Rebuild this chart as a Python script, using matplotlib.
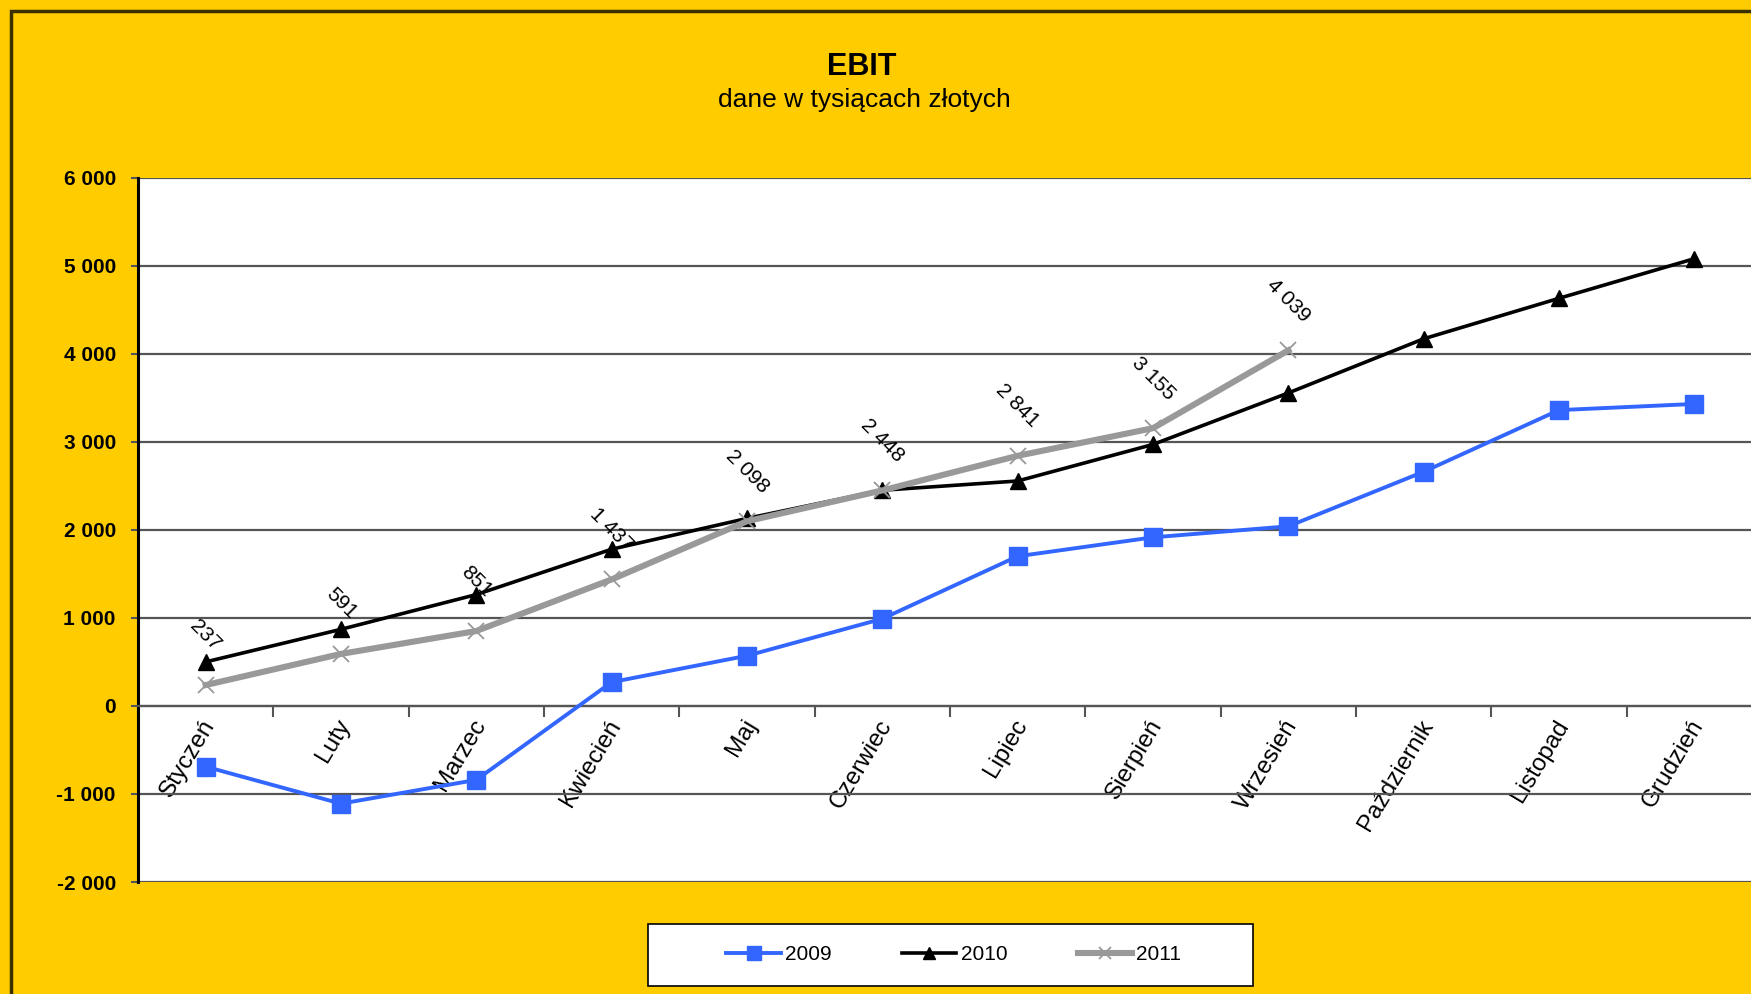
import matplotlib
matplotlib.use("Agg")
import matplotlib.pyplot as plt
from matplotlib.patches import Rectangle
from matplotlib.ticker import FuncFormatter, FixedLocator
import matplotlib.transforms as mtransforms

plt.rcParams['font.family'] = ['Liberation Sans', 'DejaVu Sans']

months = ["Styczeń", "Luty", "Marzec", "Kwiecień", "Maj", "Czerwiec",
          "Lipiec", "Sierpień", "Wrzesień", "Październik", "Listopad", "Grudzień"]
ebit_2009 = [-690, -1110, -840, 270, 570, 990, 1700, 1915, 2040, 2660, 3360, 3430]
ebit_2010 = [500, 870, 1265, 1780, 2130, 2450, 2555, 2970, 3555, 4170, 4630, 5080]
ebit_2011 = [237, 591, 851, 1437, 2098, 2448, 2841, 3155, 4039]
y_ticks = [-2000, -1000, 0, 1000, 2000, 3000, 4000, 5000, 6000]
series_names = ["2009", "2010", "2011"]

W, H = 1751, 994
fig = plt.figure(figsize=(W / 100, H / 100), dpi=100, facecolor='#FFCC00')

# outer frame (top and left visible)
fig.patches.append(Rectangle((11 / W, -0.2), 1.3, 1.2 - 11 / H,
                             transform=fig.transFigure, fill=False,
                             edgecolor='#3a3000', lw=2.5, zorder=0))

ax = fig.add_axes([138 / W, 1 - 882 / H, (1762 - 138) / W, (882 - 177.7) / H])
ax.set_facecolor('white')

x = list(range(len(months)))
x11 = x[:len(ebit_2011)]

ax.plot(x, ebit_2009, color='#3366FF', lw=2.8, marker='s', markersize=12.5,
        markeredgecolor='#3366FF', label=series_names[0], zorder=3)
ax.plot(x, ebit_2010, color='black', lw=2.6, marker='^', markersize=12,
        label=series_names[1], zorder=4)
ax.plot(x11, ebit_2011, color='#999999', lw=4.4, marker='x', markersize=11,
        markeredgewidth=1.3, label=series_names[2], zorder=5)


def fmt(v):
    s = f"{abs(int(v)):,}".replace(",", " ")
    return ("-" if v < 0 else "") + s


for xi, v in zip(x11, ebit_2011):
    ax.annotate(fmt(v), (xi, v), xytext=(0, 50), textcoords='offset pixels',
                rotation=-45, ha='center', va='center', fontsize=15,
                color='black', zorder=6, rotation_mode='anchor')

ax.set_xlim(-0.5, len(months) - 0.5)
ax.set_ylim(y_ticks[0], y_ticks[-1])

ax.spines['bottom'].set_position(('data', 0))
ax.spines['bottom'].set_color('#555555')
ax.spines['bottom'].set_linewidth(1.6)
ax.spines['top'].set_visible(False)
ax.spines['right'].set_visible(False)
ax.spines['left'].set_color('black')
ax.spines['left'].set_linewidth(2.2)

ax.set_yticks(y_ticks)
ax.yaxis.set_major_formatter(FuncFormatter(lambda v, p: fmt(v)))
ax.tick_params(axis='y', direction='out', length=5, width=1.5, color='#555555',
               labelsize=15, pad=11)
for lab in ax.get_yticklabels():
    lab.set_fontweight('bold')
ax.yaxis.grid(True, color='#555555', lw=1.6, zorder=1)
ax.set_axisbelow(True)

ax.set_xticks(x)
ax.set_xticklabels(months)
ax.xaxis.set_minor_locator(FixedLocator([i + 0.5 for i in range(-1, len(months))]))
ax.tick_params(axis='x', which='major', length=0, pad=7, labelsize=17.5,
               labelrotation=59)
ax.tick_params(axis='x', which='minor', length=8, width=1.5, color='#555555',
               direction='out')
shift = mtransforms.ScaledTranslation(-5 / 100, 0, fig.dpi_scale_trans)
for lab in ax.get_xticklabels():
    lab.set_ha('right')
    lab.set_va('top')
    lab.set_rotation_mode('anchor')
    lab.set_transform(lab.get_transform() + shift)

# titles
fig.text(862 / W, 1 - 67 / H, "EBIT", ha='center', va='center',
         fontsize=22, fontweight='bold')
fig.text(864 / W, 1 - 100 / H, "dane w tysiącach złotych", ha='center',
         va='center', fontsize=19)

# legend box
fig.patches.append(Rectangle((648 / W, 1 - 986 / H), (1253 - 648) / W,
                             (986 - 923.5) / H, transform=fig.transFigure,
                             facecolor='white', edgecolor='black', lw=1.2,
                             zorder=1))
handles, labels = ax.get_legend_handles_labels()
leg = fig.legend(handles, labels, loc='center left',
                 bbox_to_anchor=(716 / W, 1 - 955 / H), ncol=3, frameon=False,
                 fontsize=15, handlelength=2.6, handletextpad=0.2,
                 columnspacing=3.4, borderpad=0, markerscale=0.75)
leg.set_zorder(5)

fig.savefig("out.png", dpi=100, facecolor=fig.get_facecolor())
